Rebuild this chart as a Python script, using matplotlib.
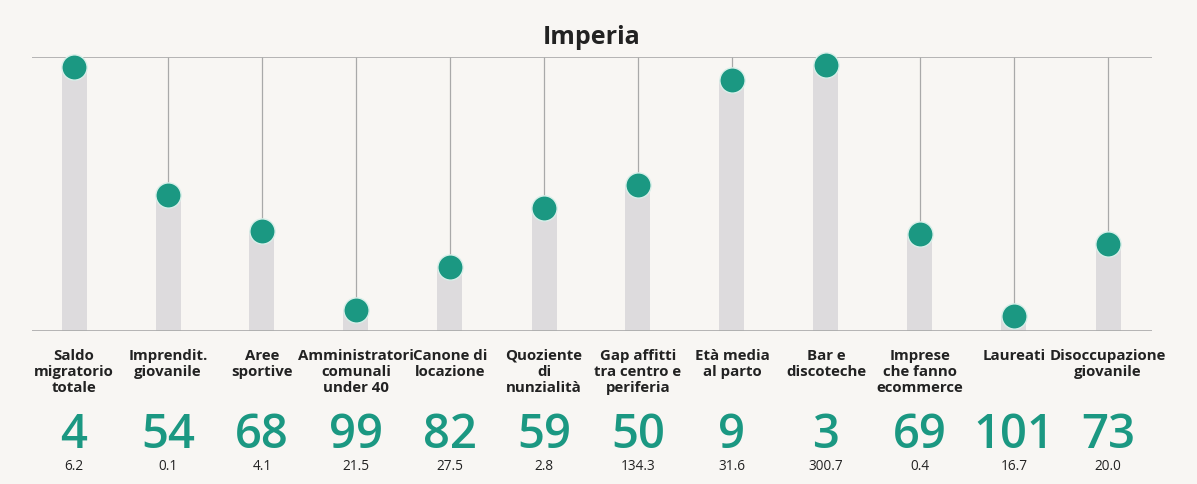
import matplotlib.pyplot as plt
import matplotlib.transforms as mtransforms

categories = ['Saldo\nmigratorio\ntotale', 'Imprendit.\ngiovanile', 'Aree\nsportive',
              'Amministratori\ncomunali\nunder 40', 'Canone di\nlocazione', 'Quoziente\ndi\nnunzialità',
              'Gap affitti\ntra centro e\nperiferia', 'Età media\nal parto', 'Bar e\ndiscoteche',
              'Imprese\nche fanno\necommerce', 'Laureati', 'Disoccupazione\ngiovanile']
ranks = [4, 54, 68, 99, 82, 59, 50, 9, 3, 69, 101, 73]
values = ['6.2', '0.1', '4.1', '21.5', '27.5', '2.8', '134.3', '31.6', '300.7', '0.4', '16.7', '20.0']
# bar heights (share of provinces below)
scores = [0.963, 0.495, 0.364, 0.075, 0.234, 0.449, 0.533, 0.916, 0.972, 0.355, 0.056, 0.318]

bg = '#f8f6f3'
green = '#1b9882'
bar_gray = '#dddbdd'
line_gray = '#a9a9a9'
plt.rcParams['font.family'] = ['Open Sans', 'DejaVu Sans']

W, H = 1197, 485
fig = plt.figure(figsize=(W / 100, H / 100), dpi=100, facecolor=bg)
ax = fig.add_axes([32 / W, 1 - 332 / H, 1120 / W, 274 / H])
ax.set_facecolor(bg)

x = list(range(len(categories)))
ax.bar(x, scores, width=25 / 94, color=bar_gray, zorder=1)
ax.vlines(x, scores, 1, color=line_gray, lw=0.9, zorder=2)
ax.axhline(1, color=line_gray, lw=1.2, zorder=2)
ax.axhline(0, color=line_gray, lw=1.2, zorder=2)
ax.scatter(x, scores, s=330, color=green, edgecolor='#d8efe9', linewidth=1.0, zorder=3, clip_on=False)

ax.set_xlim(-42 / 94, 1078 / 94)
ax.set_ylim(0, 1)
ax.axis('off')

fig.text(592 / W, 1 - 38 / H, 'Imperia', ha='center', va='center', fontsize=18,
         fontweight='bold', color='#222222')

trans = mtransforms.blended_transform_factory(ax.transData, fig.transFigure)
for i, (cat, r, v) in enumerate(zip(categories, ranks, values)):
    ax.text(i, 1 - 349 / H, cat, transform=trans, ha='center', va='top', fontsize=10.8,
            fontweight='bold', color='#222222', linespacing=1.2)
    ax.text(i, 1 - 436 / H, str(r), transform=trans, ha='center', va='center', fontsize=34,
            fontweight='semibold', color=green)
    ax.text(i, 1 - 467 / H, v, transform=trans, ha='center', va='center', fontsize=9.8,
            color='#222222')

fig.savefig('out.png', dpi=100, facecolor=bg)
